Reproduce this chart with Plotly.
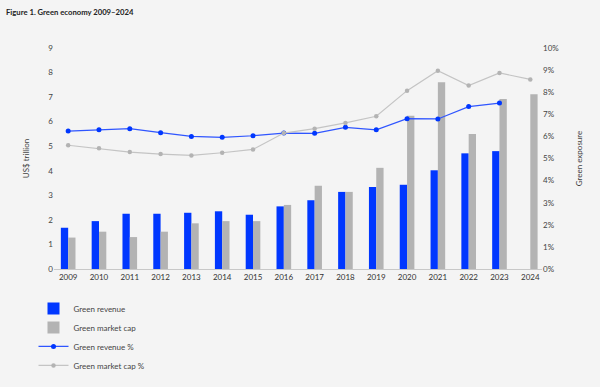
import plotly.graph_objects as go

years = [str(y) for y in range(2009, 2025)]
green_revenue = [1.68, 1.95, 2.25, 2.25, 2.29, 2.35, 2.21, 2.55, 2.80, 3.14, 3.34, 3.43, 4.02, 4.71, 4.80, None]
green_mcap = [1.28, 1.52, 1.30, 1.52, 1.86, 1.95, 1.95, 2.61, 3.39, 3.14, 4.12, 6.24, 7.61, 5.50, 6.92, 7.12]
green_revenue_pct = [6.24, 6.30, 6.35, 6.17, 6.00, 5.96, 6.03, 6.15, 6.14, 6.41, 6.30, 6.80, 6.79, 7.35, 7.51, None]
green_mcap_pct = [5.60, 5.46, 5.29, 5.20, 5.14, 5.26, 5.41, 6.15, 6.35, 6.61, 6.91, 8.07, 8.97, 8.30, 8.87, 8.58]

left_ticks = list(range(0, 10))
right_ticks = [i / 100 for i in range(0, 11)]
right_labels = [f"{i}%" for i in range(0, 11)]

BLUE = "#0037ff"
GRAY = "#b3b3b3"
FONT = "Lato"

fig = go.Figure()
fig.add_trace(go.Bar(x=years, y=green_revenue, name="Green revenue", marker_color=BLUE,
                     marker_line_width=0))
fig.add_trace(go.Bar(x=years, y=green_mcap, name="Green market cap", marker_color=GRAY,
                     marker_line_width=0))
fig.add_trace(go.Scatter(x=years, y=[v / 100 if v is not None else None for v in green_revenue_pct],
                         name="Green revenue %", yaxis="y2", mode="lines+markers",
                         line=dict(color="#2f55ff", width=1.2),
                         marker=dict(color=BLUE, size=5)))
fig.add_trace(go.Scatter(x=years, y=[v / 100 for v in green_mcap_pct],
                         name="Green market cap %", yaxis="y2", mode="lines+markers",
                         line=dict(color="#c4c4c4", width=1.2),
                         marker=dict(color="#b3b3b3", size=4.5)))

fig.update_layout(
    width=600, height=387,
    paper_bgcolor="#f4f4f4", plot_bgcolor="#f4f4f4",
    margin=dict(l=54, r=58, t=48, b=118, autoexpand=False),
    barmode="group", bargap=0.525, bargroupgap=0,
    font=dict(family=FONT, size=8, color="#333333"),
    title=dict(text="<b>Figure 1. Green economy 2009–2024</b>", x=0.01, xanchor="left",
               y=0.975, yanchor="top", font=dict(family=FONT, size=7.7, color="#222222")),
    xaxis=dict(type="category", range=[-0.46, 15.38], showgrid=False, showline=True,
               linecolor="#c8c8c8", linewidth=1, ticks="", tickfont=dict(size=8, color="#333")),
    yaxis=dict(range=[0, 9], tickvals=left_ticks, showgrid=False, zeroline=False,
               title=dict(text="US$ trillion", font=dict(size=8, color="#444"), standoff=17),
               ticks="", tickfont=dict(size=8, color="#444")),
    yaxis2=dict(range=[0, 0.1], overlaying="y", side="right", tickvals=right_ticks,
                ticktext=right_labels, showgrid=False, zeroline=False, ticks="",
                title=dict(text="Green exposure", font=dict(size=8, color="#444"), standoff=18),
                tickfont=dict(size=8, color="#444")),
    legend=dict(x=-0.042, y=-0.113, xanchor="left", yanchor="top", orientation="v",
                bgcolor="rgba(0,0,0,0)", font=dict(size=8, color="#444"),
                itemwidth=30, tracegroupgap=0),
    showlegend=True,
)

fig.write_html("out.html", config={"displayModeBar": False},
               post_script="document.body.style.margin='0';document.body.style.background='#f4f4f4';")
